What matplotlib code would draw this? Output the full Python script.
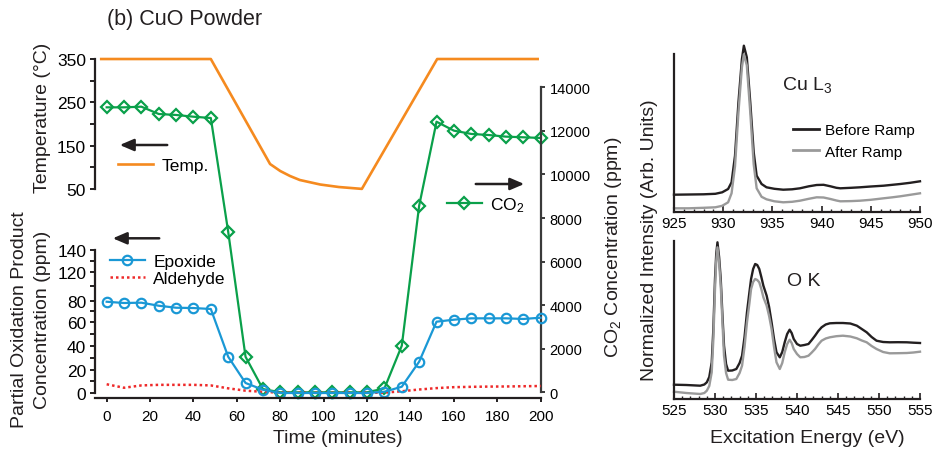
import numpy as np
import matplotlib
matplotlib.use("Agg")
import matplotlib.pyplot as plt
from matplotlib.lines import Line2D
from matplotlib.patches import FancyArrowPatch

plt.rcParams['font.family'] = ['Liberation Sans', 'DejaVu Sans']
plt.rcParams['mathtext.fontset'] = 'custom'
plt.rcParams['mathtext.rm'] = 'Liberation Sans'
plt.rcParams['mathtext.it'] = 'Liberation Sans:italic'
plt.rcParams['mathtext.bf'] = 'Liberation Sans:bold'

# ---------------- data ----------------
time_min = [0, 8, 16, 24, 32, 40, 48, 56, 64, 72, 80, 88, 96, 104, 112, 120,
            128, 136, 144, 152, 160, 168, 176, 184, 192, 200]
epoxide_ppm = [79.0, 77.8, 78.1, 75.2, 73.3, 73.0, 72.1, 30.8, 8.6, 2.8, 0.0, 0.0, 0.0,
               0.0, 0.0, 0.0, 1.1, 5.4, 26.7, 60.0, 61.9, 63.2, 63.2, 63.2, 62.6, 63.8]
aldehyde_ppm = [7.5, 4.5, 6.5, 7.0, 7.0, 7.0, 6.5, 4.0, 2.0, 1.0, 0.3, 0.2, 0.2,
                0.2, 0.2, 0.2, 0.3, 1.5, 3.0, 4.2, 5.0, 5.3, 5.5, 5.6, 5.8, 6.0]
co2_ppm = [13080, 13080, 13110, 12775, 12730, 12650, 12590, 7370, 1630, 150, 0, 0, 0,
           0, 0, 0, 180, 2140, 8570, 12420, 12010, 11860, 11810, 11735, 11705, 11675]

temp_time = [-2.5, 48, 75.3, 80, 84.5, 89, 98.4, 107, 117.6, 152.3, 198.6]
temp_c = [350, 350, 107.7, 91.5, 80, 70.8, 60.4, 54.6, 50.3, 350, 350]

ppm_ticks = [0, 20, 40, 60, 80, 120, 140]
temp_ticks = [50, 150, 250, 350]
co2_ticks = [0, 2000, 4000, 6000, 8000, 10000, 12000, 14000]
time_ticks = [0, 20, 40, 60, 80, 100, 120, 140, 160, 180, 200]

cu_energy = [925.0, 926.5, 928.0, 929.2, 929.9, 930.5, 930.85, 931.2, 931.55, 931.9,
             932.1, 932.4, 932.75, 933.1, 933.4, 933.9, 934.4, 935.2, 936.1, 937.0,
             937.8, 938.7, 939.5, 940.2, 940.9, 941.5, 941.9, 943.0, 943.9, 945.0,
             946.3, 947.2, 948.0, 949.0, 950.0]
cu_before = [0.176, 0.178, 0.18, 0.185, 0.20, 0.233, 0.30, 0.566, 1.10, 1.53,
             1.666, 1.55, 1.10, 0.60, 0.366, 0.283, 0.25, 0.235, 0.226, 0.23,
             0.24, 0.26, 0.273, 0.275, 0.26, 0.245, 0.24, 0.245, 0.25, 0.258,
             0.266, 0.275, 0.283, 0.295, 0.31]
cu_after = [0.04, 0.04, 0.045, 0.05, 0.065, 0.10, 0.19, 0.46, 1.0, 1.45,
            1.58, 1.47, 1.0, 0.48, 0.24, 0.155, 0.13, 0.11, 0.10, 0.105,
            0.116, 0.135, 0.15, 0.148, 0.133, 0.118, 0.11, 0.112, 0.116, 0.125,
            0.14, 0.15, 0.16, 0.175, 0.19]

o_energy = [525.0, 526.5, 528.2, 528.7, 529.0, 529.3, 529.6, 529.8, 530.0, 530.15,
            530.3, 530.5, 530.7, 530.9, 531.1, 531.35, 531.6, 532.1, 532.6, 533.0,
            533.3, 533.6, 533.9, 534.2, 534.4, 534.65, 534.9, 535.15, 535.4, 535.65,
            535.9, 536.3, 536.6, 536.9, 537.2, 537.5, 537.9, 538.2, 538.5, 538.8,
            539.1, 539.35, 539.6, 540.0, 540.4, 540.9, 541.4, 541.8, 542.2, 542.6,
            543.0, 543.5, 544.0, 544.8, 545.6, 546.5, 547.3, 547.9, 548.5, 549.1,
            549.7, 550.5, 551.3, 552.3, 553.4, 554.2, 555.0]
o_before = [0.143, 0.14, 0.133, 0.145, 0.167, 0.22, 0.367, 0.70, 1.20, 1.45,
            1.567, 1.42, 1.20, 0.85, 0.533, 0.35, 0.283, 0.285, 0.30, 0.36,
            0.433, 0.62, 0.867, 1.07, 1.20, 1.30, 1.35, 1.34, 1.30, 1.22,
            1.133, 1.033, 0.92, 0.767, 0.60, 0.467, 0.417, 0.47, 0.567, 0.65,
            0.693, 0.66, 0.60, 0.55, 0.533, 0.54, 0.55, 0.59, 0.633, 0.68,
            0.717, 0.745, 0.757, 0.76, 0.76, 0.755, 0.733, 0.70, 0.667, 0.62,
            0.583, 0.57, 0.567, 0.568, 0.567, 0.563, 0.56]
o_after = [0.073, 0.06, 0.05, 0.06, 0.083, 0.13, 0.267, 0.60, 1.10, 1.38,
           1.517, 1.36, 1.133, 0.78, 0.433, 0.26, 0.193, 0.19, 0.20, 0.26,
           0.333, 0.52, 0.767, 0.96, 1.10, 1.17, 1.20, 1.19, 1.167, 1.10,
           1.017, 0.933, 0.83, 0.70, 0.52, 0.367, 0.30, 0.36, 0.467, 0.55,
           0.593, 0.56, 0.50, 0.45, 0.417, 0.42, 0.433, 0.465, 0.50, 0.545,
           0.583, 0.605, 0.617, 0.628, 0.633, 0.625, 0.607, 0.585, 0.567, 0.53,
           0.50, 0.47, 0.457, 0.458, 0.46, 0.465, 0.473]

# ---------------- style ----------------
ORANGE = '#F58A1F'
GREEN = '#0AA04A'
BLUE = '#1A98D5'
RED = '#EE2A2A'
DARK = '#231F20'
GRAY = '#9A9A9A'

W, H = 934, 456
fig = plt.figure(figsize=(W / 100, H / 100), dpi=100)
fig.patch.set_facecolor('white')


def box(l, t, r, b):
    return [l / W, 1 - b / H, (r - l) / W, (b - t) / H]


def fp(x, y):
    return (x / W, 1 - y / H)


L_BOX = box(94.5, 40, 540.7, 399)
XLIM = (-5.6, 200)

# temperature axes (back)
ax_t = fig.add_axes(L_BOX)
ax_t.set_facecolor('none')
ax_t.set_xlim(*XLIM)
ax_t.set_ylim(-432.3, 396.2)
for s in ['top', 'right', 'bottom']:
    ax_t.spines[s].set_visible(False)
ax_t.spines['left'].set_bounds(50, 350)
ax_t.spines['left'].set_linewidth(1.6)
ax_t.spines['left'].set_color(DARK)
ax_t.set_xticks([])
ax_t.set_yticks(temp_ticks)
ax_t.set_yticks([100, 200, 300], minor=True)
ax_t.tick_params(axis='y', which='both', direction='out', length=3.5, width=1.4,
                 labelsize=12.5, pad=2.5, color=DARK)
ax_t.plot(temp_time, temp_c, color=ORANGE, lw=1.9, clip_on=False)

# CO2 axes
ax_c = fig.add_axes(L_BOX)
ax_c.set_facecolor('none')
ax_c.set_xlim(*XLIM)
ax_c.set_ylim(-261.6, 16217)
for s in ['top', 'left', 'bottom']:
    ax_c.spines[s].set_visible(False)
ax_c.spines['right'].set_bounds(0, 14000)
ax_c.spines['right'].set_linewidth(1.6)
ax_c.spines['right'].set_color('#3a3a3a')
ax_c.yaxis.tick_right()
ax_c.set_xticks([])
ax_c.set_yticks(co2_ticks)
ax_c.tick_params(axis='y', direction='out', length=3, width=1.4, labelsize=10.5,
                 pad=3.5, color='#3a3a3a')
ax_c.plot(time_min, co2_ppm, color=GREEN, lw=1.6, marker='D', ms=6.2, mfc='none',
          mec=GREEN, mew=1.6, clip_on=False)

# partial oxidation product axes (front)
ppm_vals = [-100, 0, 20, 40, 60, 80, 120, 140, 1000]
ppm_h = [-116.5, 0, 23.3, 47.3, 71.3, 92.3, 120.7, 143, 1101.9]


def fwd(v):
    return np.interp(v, ppm_vals, ppm_h)


def inv(h):
    return np.interp(h, ppm_h, ppm_vals)


ax_p = fig.add_axes(L_BOX)
ax_p.set_facecolor('none')
ax_p.set_yscale('function', functions=(fwd, inv))
ax_p.set_xlim(*XLIM)
ax_p.set_ylim(-4.29, 329.2)
for s in ['top', 'right']:
    ax_p.spines[s].set_visible(False)
ax_p.spines['left'].set_bounds(0, 140)
for s in ['left', 'bottom']:
    ax_p.spines[s].set_linewidth(1.6)
    ax_p.spines[s].set_color(DARK)
ax_p.set_yticks(ppm_ticks)
ax_p.set_yticklabels([str(v) for v in ppm_ticks])
ax_p.set_yticks([10, 30, 50, 70, 100, 130], minor=True)
ax_p.yaxis.set_minor_formatter(matplotlib.ticker.NullFormatter())
ax_p.tick_params(axis='y', which='both', direction='out', length=3.5, width=1.4,
                 labelsize=12.5, pad=2.5, color=DARK)
ax_p.set_xticks(time_ticks)
ax_p.tick_params(axis='x', direction='out', length=3, width=1.4, labelsize=11,
                 pad=5, color=DARK)
ax_p.plot(time_min, aldehyde_ppm, color=RED, lw=1.8, ls=(0, (1, 1.2)), clip_on=False)
ax_p.plot(time_min, epoxide_ppm, color=BLUE, lw=1.6, marker='o', ms=6.8, mfc='none',
          mec=BLUE, mew=1.6, clip_on=False)

# legends
leg_kw = dict(frameon=False, borderpad=0, borderaxespad=0, bbox_transform=fig.transFigure,
              handlelength=2.0, handletextpad=0.5, fontsize=12.5, loc='center left')
lt = ax_t.legend([Line2D([], [], color=ORANGE, lw=1.9)], ['Temp.'],
                 bbox_to_anchor=fp(118, 166), **leg_kw)
lc = ax_c.legend([Line2D([], [], color=GREEN, lw=1.6, marker='D', ms=6.2, mfc='none',
                         mec=GREEN, mew=1.6)], ['CO$_2$'],
                 bbox_to_anchor=fp(447, 205.5), **leg_kw)
lp = ax_p.legend([Line2D([], [], color=BLUE, lw=1.6, marker='o', ms=6.8, mfc='none',
                         mec=BLUE, mew=1.6),
                  Line2D([], [], color=RED, lw=1.8, ls=(0, (1, 1.2)))],
                 ['Epoxide', 'Aldehyde'], labelspacing=0.1,
                 bbox_to_anchor=fp(110, 271.2), **leg_kw)

# arrows
for (x1, y1, x2, y2) in [(170, 146, 117, 146), (473, 185, 527, 185), (162, 239.3, 110, 239.3)]:
    fig.add_artist(FancyArrowPatch(fp(x1, y1), fp(x2, y2), transform=fig.transFigure,
                                   arrowstyle='-|>,head_length=0.7,head_width=0.3',
                                   mutation_scale=12, lw=1.8, color=DARK))

# text labels
fig.text(*fp(107, 20), '(b) CuO Powder', fontsize=15.5, ha='left', va='center', color=DARK)
fig.text(*fp(42.5, 118.3), 'Temperature (°C)', rotation=90, ha='center', va='center',
         fontsize=14, color=DARK)
fig.text(*fp(19.7, 319.5), 'Partial Oxidation Product', rotation=90, ha='center',
         va='center', fontsize=14, color=DARK)
fig.text(*fp(42.5, 319.5), 'Concentration (ppm)', rotation=90, ha='center',
         va='center', fontsize=14, color=DARK)
fig.text(*fp(613, 247.5), 'CO$_2$ Concentration (ppm)', rotation=90, ha='center',
         va='center', fontsize=14, color=DARK)
fig.text(*fp(337.5, 439), 'Time (minutes)', ha='center', va='center', fontsize=14,
         color=DARK)

# ---------------- spectra ----------------
ax_cu = fig.add_axes(box(674, 40, 920, 213.3))
ax_ok = fig.add_axes(box(674, 235, 920, 400))
for ax, xl, yl in [(ax_cu, (925, 950), 1.733), (ax_ok, (525, 555), 1.65)]:
    ax.set_facecolor('none')
    ax.set_xlim(*xl)
    ax.set_ylim(0, yl)
    ax.spines['top'].set_visible(False)
    ax.spines['right'].set_visible(False)
    ax.spines['left'].set_bounds(0, 1.583)
    for s in ['left', 'bottom']:
        ax.spines[s].set_linewidth(1.6)
        ax.spines[s].set_color(DARK)
    ax.set_yticks([])
    ax.set_xticks(np.arange(xl[0], xl[1] + 1, 5))
    ax.set_xticks(np.arange(xl[0], xl[1] + 0.1, 1), minor=True)
    ax.tick_params(axis='x', which='major', direction='in', length=4, width=1.2,
                   labelsize=11, pad=3, color=DARK)
    ax.tick_params(axis='x', which='minor', direction='in', length=2.5, width=1.0,
                   color=DARK)

ax_cu.plot(cu_energy, cu_before, color=DARK, lw=1.7, clip_on=False)
ax_cu.plot(cu_energy, cu_after, color=GRAY, lw=1.7, clip_on=False)
ax_ok.plot(o_energy, o_before, color=DARK, lw=1.7, clip_on=False)
ax_ok.plot(o_energy, o_after, color=GRAY, lw=1.7, clip_on=False)

ax_cu.legend([Line2D([], [], color=DARK, lw=2), Line2D([], [], color=GRAY, lw=2)],
             ['Before Ramp', 'After Ramp'], frameon=False, borderpad=0, borderaxespad=0,
             bbox_transform=fig.transFigure, handlelength=1.65, handletextpad=0.4,
             fontsize=11, loc='center left', labelspacing=0.5,
             bbox_to_anchor=fp(793.3, 142))

fig.text(*fp(781.7, 85), 'Cu L$_3$', fontsize=14, ha='left', va='center', color=DARK)
fig.text(*fp(786.7, 281.7), 'O K', fontsize=14, ha='left', va='center', color=DARK)
fig.text(*fp(650, 240.5), 'Normalized Intensity (Arb. Units)', rotation=90,
         ha='center', va='center', fontsize=14, color=DARK)
fig.text(*fp(807.5, 439), 'Excitation Energy (eV)', ha='center', va='center',
         fontsize=14, color=DARK)

fig.savefig('out.png', dpi=100, facecolor='white')
